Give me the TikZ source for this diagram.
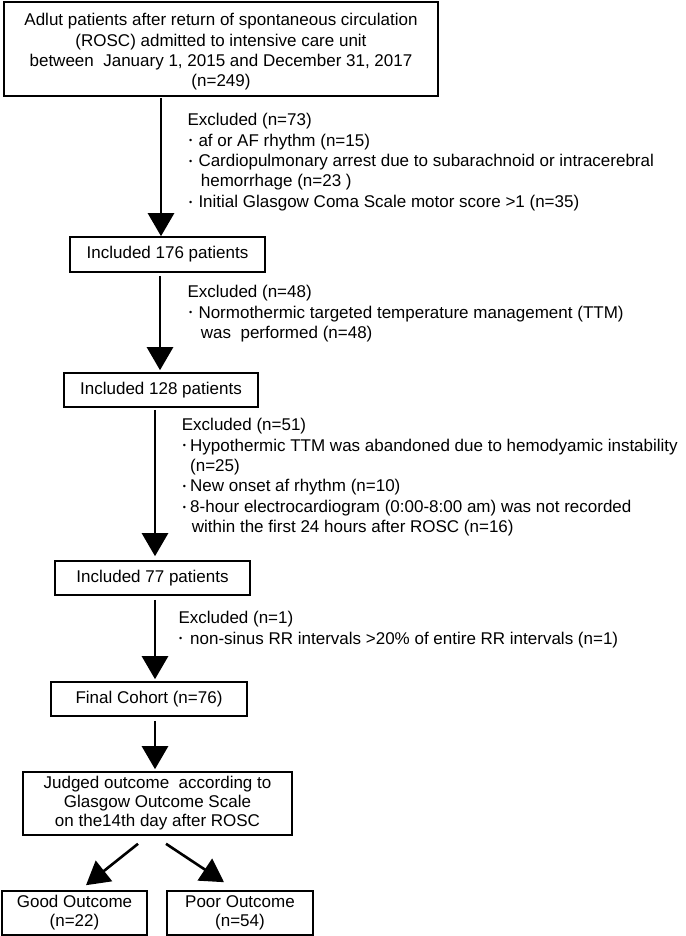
\documentclass[tikz,border=0pt]{standalone}
\usepackage{fontspec}
\setmainfont{Liberation Sans}
\usetikzlibrary{arrows.meta}
\newcommand{\exbul}[2]{\makebox[#1][l]{\hspace{#2}\raisebox{2.2pt}{\fontsize{9}{9}\selectfont •}}}
\begin{document}
\begin{tikzpicture}[x=1pt,y=-1pt,
  box/.style={draw, line width=1.6pt, align=center, inner sep=0pt, font=\fontsize{17}{20.3}\selectfont},
  smallbox/.style={box, font=\fontsize{17}{19}\selectfont},
  exl/.style={anchor=north west, align=left, inner sep=0pt, font=\fontsize{17}{20.4}\selectfont},
  arr/.style={line width=2.6pt, -{Triangle[length=23pt,width=26pt]}}]
\useasboundingbox (0,0) rectangle (685,936);

\node[box, minimum width=434pt, minimum height=94pt] (b1) at (221,49)
  {\rule{0pt}{18pt}Adlut patients after return of spontaneous circulation\\
   (ROSC) admitted to intensive care unit\\
   between\ \ January 1, 2015 and December 31, 2017\\
   (n=249)};
\node[box, minimum width=195pt, minimum height=35pt] (b2) at (167.5,254.5) {Included 176 patients};
\node[box, minimum width=194pt, minimum height=34pt] (b3) at (161,390) {Included 128 patients};
\node[box, minimum width=195pt, minimum height=34pt] (b4) at (152.5,578) {Included 77 patients};
\node[box, minimum width=196pt, minimum height=34pt] (b5) at (149,699) {Final Cohort (n=76)};
\node[smallbox, minimum width=269pt, minimum height=63pt] (b6) at (157.5,803.5)
  {Judged outcome\ \ according to\\ Glasgow Outcome Scale\\ on the14th day after ROSC};
\node[smallbox, minimum width=145pt, minimum height=44pt] (b7) at (74.5,913) {Good Outcome\\ (n=22)};
\node[smallbox, minimum width=146pt, minimum height=44pt] (b8) at (240,913) {Poor Outcome\\ (n=54)};

\node[exl] (e1) at (187.3,111.2)
  {\strut Excluded (n=73)\\
   \exbul{11pt}{1.5pt}af or AF rhythm (n=15)\\
   \exbul{11pt}{1.5pt}Cardiopulmonary arrest due to subarachnoid or intracerebral\\
   \hspace*{13.4pt}hemorrhage (n=23 )\\
   \exbul{11pt}{1.5pt}Initial Glasgow Coma Scale motor score >1 (n=35)};
\node[exl] (e2) at (187.3,283.2)
  {\strut Excluded (n=48)\\
   \exbul{11pt}{1.5pt}Normothermic targeted temperature management (TTM)\\
   \hspace*{13.4pt}was\ \ performed (n=48)};
\node[exl] (e3) at (181.7,416.2)
  {\strut Excluded (n=51)\\
   \exbul{8.3pt}{1pt}Hypothermic TTM was abandoned due to hemodyamic instability\\
   \hspace*{8.3pt}(n=25)\\
   \exbul{8.3pt}{1pt}New onset af rhythm (n=10)\\
   \exbul{8.3pt}{1pt}8-hour electrocardiogram (0:00-8:00 am) was not recorded\\
   \hspace*{10pt}within the first 24 hours after ROSC (n=16)};
\node[exl] (e4) at (178.3,609.2)
  {\strut Excluded (n=1)\\
   \exbul{11.7pt}{0.5pt}non-sinus RR intervals >20\% of entire RR intervals (n=1)};

\draw[arr] ([xshift=-60pt,yshift=-1pt]b1.south) -- ([xshift=-6.5pt]b2.north);
\draw[arr] ([xshift=-7.5pt,yshift=-3pt]b2.south) -- ([xshift=-1pt,yshift=2pt]b3.north);
\draw[arr] ([xshift=-6pt,yshift=-2pt]b3.south) -- ([xshift=2.5pt,yshift=4pt]b4.north);
\draw[arr] ([xshift=2.5pt,yshift=-4pt]b4.south) -- ([xshift=6pt,yshift=2pt]b5.north);
\draw[arr] ([xshift=6pt,yshift=-4pt]b5.south) -- ([xshift=-2.5pt,yshift=2pt]b6.north);
\draw[arr] ([xshift=-19.5pt,yshift=-8pt]b6.south) -- ([xshift=11.5pt,yshift=5pt]b7.north);
\draw[arr] ([xshift=8.5pt,yshift=-8pt]b6.south) -- ([xshift=-16pt,yshift=8pt]b8.north);
\end{tikzpicture}
\end{document}
